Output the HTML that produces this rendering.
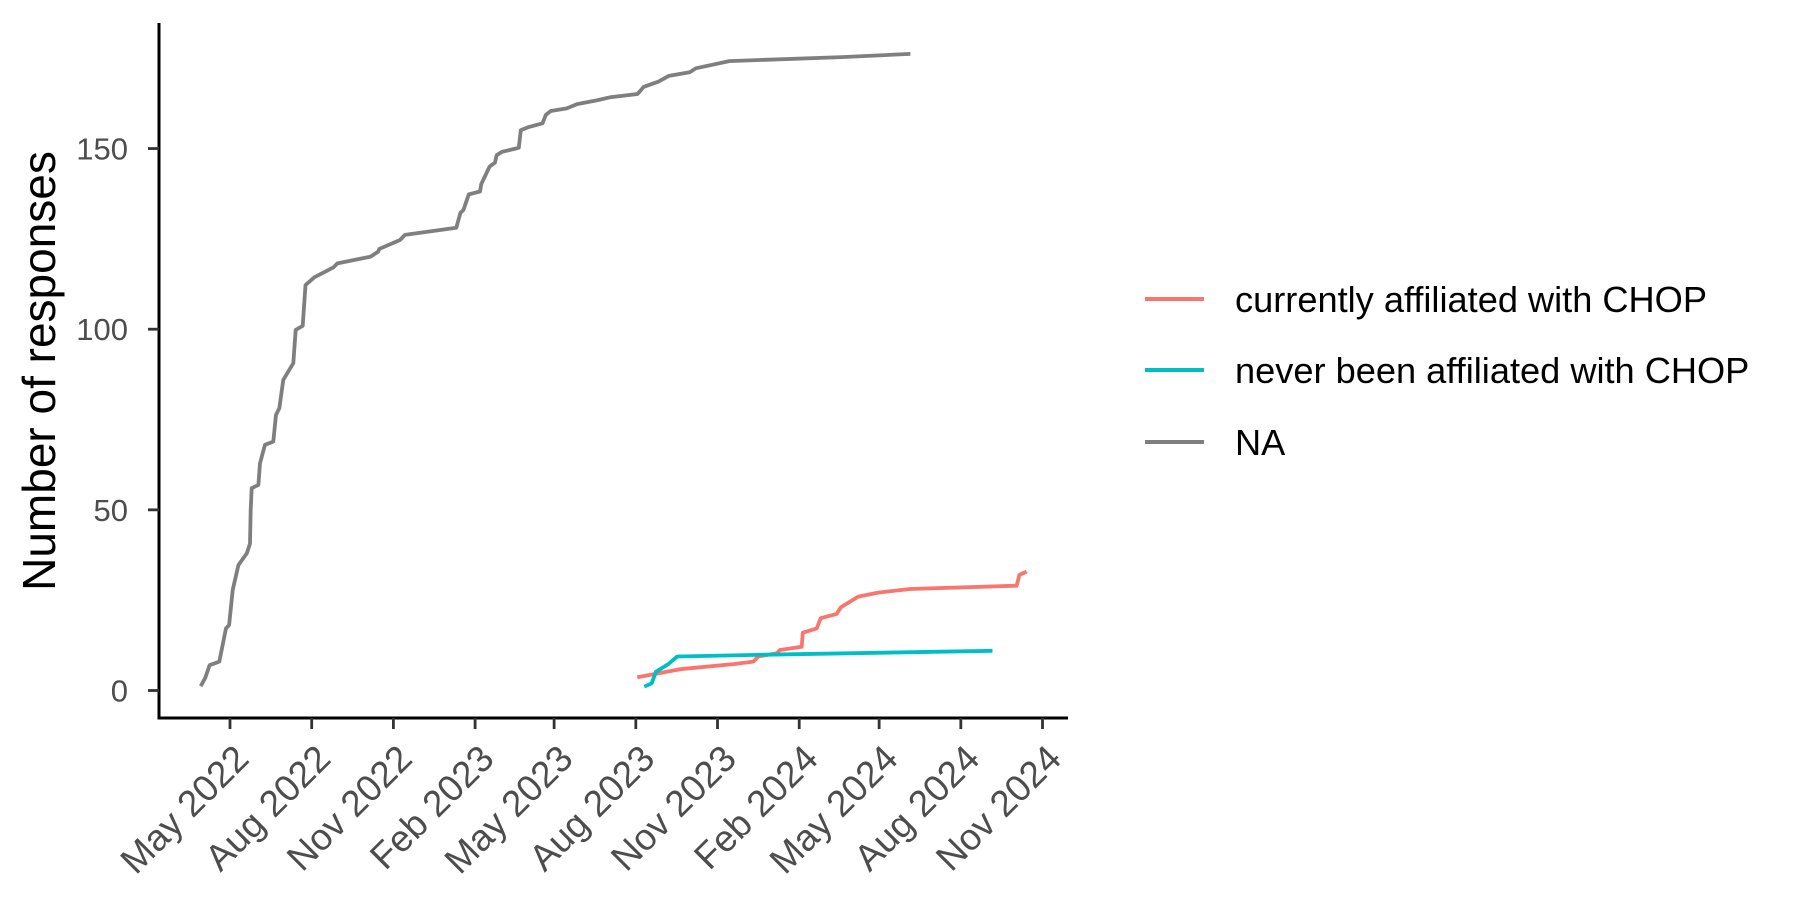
<!DOCTYPE html>
<html><head><meta charset="utf-8">
<style>
html,body{margin:0;padding:0;background:#fff;}
svg{display:block;font-family:"Liberation Sans",Arial,sans-serif;}
</style></head>
<body>
<svg id="chart" width="1800" height="900" viewBox="0 0 1800 900">
<rect width="1800" height="900" fill="#fff"/>
<g id="plot"></g>
<g id="axes"></g>
<text x="55" y="371" transform="rotate(-90 55 371)" text-anchor="middle" font-size="46" fill="#000">Number of responses</text>
<g>
  <g>
    <line x1="1145" y1="299" x2="1204" y2="299" stroke="#F8766D" stroke-width="4"/>
    <text x="1235" y="312" font-size="36.2" fill="#000">currently affiliated with CHOP</text>
  </g>
  <g>
    <line x1="1145" y1="370" x2="1204" y2="370" stroke="#00BFC4" stroke-width="4"/>
    <text x="1235" y="383" font-size="36.2" fill="#000">never been affiliated with CHOP</text>
  </g>
  <g>
    <line x1="1145" y1="442" x2="1204" y2="442" stroke="#7F7F7F" stroke-width="4"/>
    <text x="1235" y="455" font-size="36.2" fill="#000">NA</text>
  </g>
</g>
</svg>
<script>
// Data: days since 2022-05-01 and cumulative response counts
const naDays = [-33,-28,-23,-12,-7.5,-4.5,-1,3,9.5,19,22.5,23.3,24.4,32,33.8,39.4,48.8,51.8,55.5,60,71.3,74,81.9,85,95.2,116.4,121,158.6,167,168,191.4,197,254.8,259.5,262.8,268.9,281.5,283,292.3,298.4,300.3,306.4,325.2,327.5,336.9,351.9,355.6,361.3,379.2,390.9,414.3,428.4,458.9,466,482.3,494.1,517.6,524.5,562.2,688.9,766.2];
const naCounts = [1.2,3.4,7,8,13.5,17.2,18.1,27.8,34.7,38,40.7,50,56,56.9,62.9,68,68.9,76.3,78.1,86,90.6,99.8,100.9,112.2,114.4,117.1,118.2,120.1,121.5,122.2,124.7,126.1,128.1,132.2,133,137.3,138.1,140.2,145,146.1,148.2,149.1,150.2,155.1,156,157,159.3,160.4,161.1,162.3,163.4,164.2,165.1,167.1,168.5,170.1,171.1,172.2,174.2,175.3,176.2];
const curDays = [458.7,506.8,566.8,589.3,595,615.6,619.4,643.8,645,660.7,665.2,683.2,687.7,707.6,730,765.8,885.9,888.9,897.2];
const curCounts = [3.65,5.9,7.3,8,9.4,10.3,11.2,12.1,16,17.2,20,21.2,23,26,27.1,28.1,29,32,32.9];
const neverDays = [466.6,474.9,479.7,493.6,503.7,604.4,858.7];
const neverCounts = [1.05,2,5.2,7.3,9.4,9.9,11];
const yTicks = [0,50,100,150];
const xTickLabels = ["May 2022","Aug 2022","Nov 2022","Feb 2023","May 2023","Aug 2023","Nov 2023","Feb 2024","May 2024","Aug 2024","Nov 2024"];
const xTickDates = ["2022-05-01","2022-08-01","2022-11-01","2023-02-01","2023-05-01","2023-08-01","2023-11-01","2024-02-01","2024-05-01","2024-08-01","2024-11-01"];

const NS = "http://www.w3.org/2000/svg";
const BASE = Date.UTC(2022,4,1);
function dateToDays(s){const p=s.split("-");return (Date.UTC(+p[0],+p[1]-1,+p[2])-BASE)/86400000;}
function xScale(d){return 230 + d*0.888;}
function yScale(v){return 690.5 - v*3.613;}
function mk(tag, attrs, parent){const e=document.createElementNS(NS,tag);for(const k in attrs)e.setAttribute(k,attrs[k]);parent.appendChild(e);return e;}

const plot = document.getElementById("plot");
const axes = document.getElementById("axes");

function drawSeries(days, counts, color, name){
  const pts = days.map((d,i)=>xScale(d).toFixed(1)+","+yScale(counts[i]).toFixed(1)).join(" ");
  const pl = mk("polyline",{points:pts,fill:"none",stroke:color,"stroke-width":"3.8","stroke-linejoin":"round"},plot);
  
  
}
drawSeries(naDays, naCounts, "#7F7F7F", "series-na-line");
drawSeries(curDays, curCounts, "#F8766D", "series-currently-affiliated-line");
drawSeries(neverDays, neverCounts, "#00BFC4", "series-never-affiliated-line");

const yl = mk("line",{x1:159,y1:23,x2:159,y2:719.5,stroke:"#000","stroke-width":"3"},axes);


const xl = mk("line",{x1:157.5,y1:718,x2:1068,y2:718,stroke:"#000","stroke-width":"3"},axes);



yTicks.forEach(v=>{
  const y=yScale(v);
  const t=mk("line",{x1:148,y1:y,x2:159,y2:y,stroke:"#333","stroke-width":"2.8"},axes);
  
  
  const lb=mk("text",{x:128,y:y+11,"text-anchor":"end","font-size":"31",fill:"#4D4D4D"},axes);
  lb.textContent=String(v);
  
  
});

xTickDates.forEach((s,i)=>{
  const x=xScale(dateToDays(s));
  const t=mk("line",{x1:x,y1:718,x2:x,y2:729,stroke:"#333","stroke-width":"2.8"},axes);
  
  
  const tx=x+2, ty=742;
  const lb=mk("text",{x:0,y:0,dy:"0.72em","text-anchor":"end","font-size":"37",fill:"#4D4D4D",transform:"translate("+tx+","+ty+") rotate(-45)"},axes);
  lb.textContent=xTickLabels[i];
  
  
});
</script>
</body></html>
